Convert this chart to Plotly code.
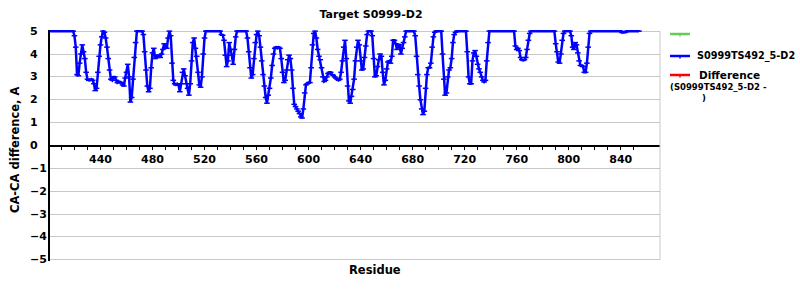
import plotly.graph_objects as go

# ---------------- data ----------------
first_residue = 401
ca_diff_values = [
    5, 5, 5, 5, 5, 5, 5, 5, 5, 5,
    5, 5, 5, 5, 5, 5, 5, 5, 5, 4.8,
    4.3, 3.1, 3.05, 3.6, 4.0, 4.4, 4.1, 3.8, 3.2, 2.9,
    2.85, 2.85, 2.9, 2.85, 2.7, 2.4, 2.5, 3.2, 3.9, 4.4,
    4.75, 5.0, 4.95, 4.7, 4.3, 3.8, 3.3, 2.9, 2.85, 3.0,
    3.0, 2.85, 2.75, 2.8, 2.75, 2.75, 2.65, 2.6, 2.95, 3.2,
    3.55, 3.0, 1.9, 2.1, 2.9, 3.85, 4.5, 5, 5, 5,
    5, 5, 4.85, 4.1, 3.3, 2.6, 2.35, 2.5, 3.4, 4.05,
    4.25, 3.8, 3.95, 3.85, 3.95, 3.85, 4.0, 4.2, 4.45, 4.3,
    4.25, 4.7, 5.0, 4.8, 3.6, 2.85, 2.7, 2.65, 2.7, 2.65,
    2.35, 2.7, 3.2, 3.35, 3.05, 2.7, 2.5, 2.2, 2.7, 3.7,
    4.5, 4.7, 4.25, 3.9, 3.2, 2.65, 2.55, 3.0, 4.0, 4.7,
    5, 5, 5, 5, 5, 5, 5, 5, 5, 5,
    5, 5, 4.85, 4.82, 4.6, 3.95, 3.45, 3.7, 4.5, 4.2,
    3.95, 3.55, 4.2, 4.75, 5, 5, 5, 5, 5, 5,
    5, 5, 4.7, 4.1, 3.4, 2.95, 3.1, 3.8, 4.5, 4.85,
    5, 4.8, 4.3, 3.7, 3.1, 2.6, 2.1, 1.85, 2.2, 2.5,
    2.95, 3.5, 4.0, 4.25, 4.3, 4.25, 4.3, 4.25, 3.8, 3.2,
    2.75, 2.85, 3.3, 3.75, 3.95, 3.8, 3.3, 2.5, 1.8, 1.7,
    1.6, 1.5, 1.4, 1.25, 1.2, 1.6, 2.3, 2.65, 2.7, 2.75,
    2.75, 3.4, 4.4, 4.9, 5.0, 4.7, 4.2, 3.9, 3.75, 3.4,
    3.0, 2.8, 2.85, 3.0, 3.15, 3.2, 3.2, 3.1, 3.07, 3.0,
    2.95, 2.9, 2.85, 2.9, 3.2, 3.7, 4.3, 4.6, 3.8, 2.6,
    1.95, 1.85, 2.15, 2.45, 2.9, 3.7, 4.3, 4.6, 4.4, 3.7,
    3.3, 3.35, 3.85, 4.35, 4.85, 5, 5, 5, 4.8, 3.8,
    3.0, 3.05, 3.45, 3.75, 4.0, 3.9, 3.2, 2.65, 2.85, 3.35,
    3.65, 3.7, 3.6, 3.9, 4.6, 4.6, 4.45, 4.2, 4.4, 4.4,
    4.0, 4.25, 4.5, 4.75, 5, 5, 5, 5, 5, 5,
    5, 4.8, 3.9, 3.1, 2.6, 2.0, 1.6, 1.35, 1.5, 2.5,
    3.1, 3.4, 3.4, 3.6, 4.3, 4.75, 4.95, 5, 5, 5,
    5, 5, 4.0, 2.9, 2.2, 2.3, 3.0, 3.3, 3.4, 3.8,
    4.5, 4.85, 4.95, 5, 5, 5, 5, 5, 5, 5,
    5, 4.1, 3.0, 2.7, 2.7, 3.7, 4.05, 4.15, 3.9, 3.55,
    3.35, 3.2, 3.0, 2.85, 2.78, 2.85, 3.7, 4.5, 5, 5,
    5, 5, 5, 5, 5, 5, 5, 5, 5, 5,
    5, 5, 5, 5, 5, 5, 5, 5, 4.35, 4.2,
    4.25, 4.15, 3.85, 3.75, 3.72, 3.75, 3.85, 4.2, 4.6, 4.9,
    5, 5, 5, 5, 5, 5, 5, 5, 5, 5,
    5, 5, 5, 5, 5, 5, 5, 5, 5, 4.45,
    4.1, 3.65, 3.6, 4.0, 4.6, 4.9, 5, 5, 5, 5,
    5, 4.8, 4.3, 4.2, 4.5, 4.4, 4.05, 3.7, 3.5, 3.5,
    3.45, 3.2, 3.2, 3.6, 4.3, 4.9, 5, 5, 5, 5,
    5, 5, 5, 5, 5, 5, 5, 5, 5, 5,
    5, 5, 5, 5, 5, 5, 5, 5, 5, 5,
    4.94, 4.94, 4.94, 4.97, 5, 5, 5, 5, 5, 5,
    5, 5, 5, 5,
]
residues = [first_residue + i for i in range(len(ca_diff_values))]

x_tick_vals = [440, 480, 520, 560, 600, 640, 680, 720, 760, 800, 840]
x_tick_labels = ["440", "480", "520", "560", "600", "640", "680", "720", "760", "800", "840"]
x_minor_ticks = [410, 420, 430, 440, 450, 460, 470, 480, 490, 500, 510, 520, 530, 540,
                 550, 560, 570, 580, 590, 600, 610, 620, 630, 640, 650, 660, 670, 680,
                 690, 700, 710, 720, 730, 740, 750, 760, 770, 780, 790, 800, 810, 820,
                 830, 840, 850]
y_tick_vals = [5, 4, 3, 2, 1, 0, -1, -2, -3, -4, -5]
y_tick_labels = ["5", "4", "3", "2", "1", "0", "\u22121", "\u22122", "\u22123", "\u22124", "\u22125"]

title_text = "Target S0999-D2"
x_title = "Residue"
y_title = "CA-CA difference, A"
series_name = "S0999TS492_5-D2"
diff_name = "Difference"
diff_sub1 = "(S0999TS492_5-D2 -"
diff_sub2 = ")"

# ---------------- figure ----------------
W, H = 800, 300
ML, MR, MT, MB = 50, 140, 30, 39
PW, PH = W - ML - MR, H - MT - MB
FONT = "DejaVu Sans"


def px_x(px):
    return (px - ML) / PW


def px_y(py):
    return (H - MB - py) / PH


fig = go.Figure()
fig.add_trace(go.Scatter(
    x=residues, y=ca_diff_values, mode="lines+markers", name=series_name,
    line=dict(color="#0000ff", width=2.5),
    marker=dict(symbol="line-ew", size=4, color="#0000ff",
                line=dict(width=1.5, color="#0000ff")),
    showlegend=False,
))

annotations = []
for v, t in zip(y_tick_vals, y_tick_labels):
    annotations.append(dict(x=px_x(28), xref="paper", y=v, yref="y", text="<b>%s</b>" % t,
                            showarrow=False, xanchor="left", yanchor="middle",
                            font=dict(size=11, family=FONT, color="black")))
annotations.append(dict(x=px_x(15), xref="paper", y=px_y(150), yref="paper",
                        text="<b>%s</b>" % y_title, textangle=-90, showarrow=False,
                        xanchor="center", yanchor="middle",
                        font=dict(size=11.5, family=FONT, color="black")))
annotations.append(dict(x=px_x(375), xref="paper", y=px_y(270), yref="paper",
                        text="<b>%s</b>" % x_title, showarrow=False,
                        xanchor="center", yanchor="middle",
                        font=dict(size=11.5, family=FONT, color="black")))
# legend texts
annotations.append(dict(x=px_x(695), xref="paper", y=px_y(56), yref="paper",
                        text="<b>%s</b>" % series_name, showarrow=False,
                        xanchor="left", yanchor="middle",
                        font=dict(size=9.7, family=FONT, color="black")))
annotations.append(dict(x=px_x(697), xref="paper", y=px_y(75), yref="paper",
                        text="<b>%s</b>" % diff_name, showarrow=False,
                        xanchor="left", yanchor="middle",
                        font=dict(size=10.5, family=FONT, color="black")))
annotations.append(dict(x=px_x(668), xref="paper", y=px_y(87.5), yref="paper",
                        text="<b>%s</b>" % diff_sub1, showarrow=False,
                        xanchor="left", yanchor="middle",
                        font=dict(size=8.5, family=FONT, color="black")))
annotations.append(dict(x=px_x(700), xref="paper", y=px_y(98), yref="paper",
                        text="<b>%s</b>" % diff_sub2, showarrow=False,
                        xanchor="left", yanchor="middle",
                        font=dict(size=8.5, family=FONT, color="black")))

shapes = [
    # right border of plot area
    dict(type="line", xref="paper", yref="y", x0=1, x1=1, y0=-5, y1=5,
         line=dict(color="#c8c8c8", width=1)),
]
for py, col in [(34, "#66cc55"), (56, "#0000ff"), (75, "#ff0000")]:
    shapes.append(dict(type="line", xref="paper", yref="paper",
                       x0=px_x(670), x1=px_x(690), y0=px_y(py), y1=px_y(py),
                       line=dict(color=col, width=2.5)))
    shapes.append(dict(type="line", xref="paper", yref="paper",
                       x0=px_x(680), x1=px_x(680), y0=px_y(py), y1=px_y(py + 2.5),
                       line=dict(color=col, width=1.5)))

fig.update_layout(
    width=W, height=H,
    margin=dict(l=ML, r=MR, t=MT, b=MB, pad=0),
    paper_bgcolor="white", plot_bgcolor="white",
    showlegend=False,
    font=dict(family=FONT, size=11, color="black"),
    title=dict(text="<b>%s</b>" % title_text, x=371 / W, xanchor="center",
               y=1 - 14 / H, yanchor="middle", xref="container", yref="container",
               font=dict(size=11, family=FONT, color="black")),
    xaxis=dict(
        range=[401.2, 870.2], anchor="free", position=0.5,
        showline=True, linecolor="black", linewidth=1.5,
        ticks="outside", ticklen=4, tickwidth=1, tickcolor="black",
        tickmode="array", tickvals=x_tick_vals,
        ticktext=["<b>%s</b>" % t for t in x_tick_labels],
        tickfont=dict(size=11, family=FONT, color="black"),
        showgrid=False, zeroline=False,
        minor=dict(tickmode="array", tickvals=x_minor_ticks, ticks="outside",
                   ticklen=4, tickwidth=1, tickcolor="black", showgrid=False),
    ),
    yaxis=dict(
        range=[-5.05, 5.05], domain=[0, 1],
        tickmode="array", tickvals=y_tick_vals, showticklabels=False,
        showgrid=True, gridcolor="#c8c8c8", gridwidth=1, zeroline=False,
        showline=True, linecolor="black", linewidth=1.5, ticks="",
    ),
    annotations=annotations,
    shapes=shapes,
)

fig.write_html("out.html")
